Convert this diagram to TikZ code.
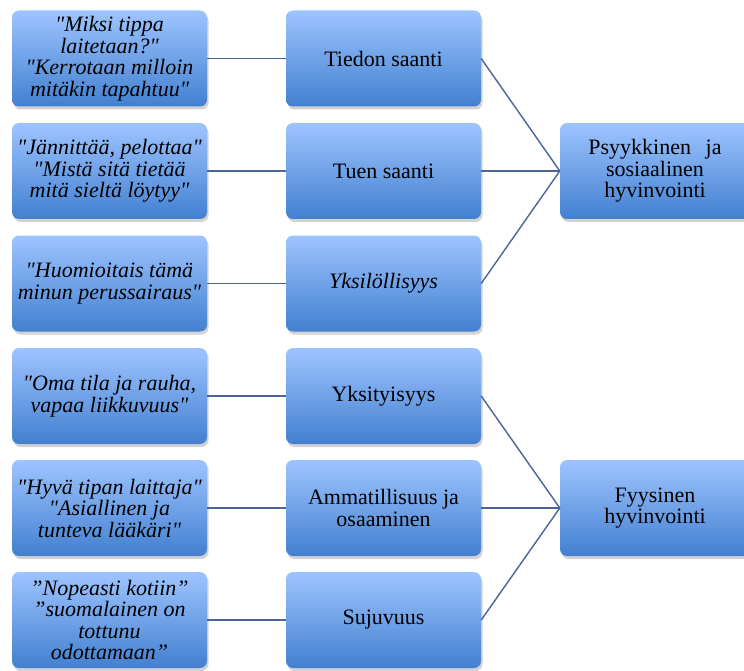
\documentclass[tikz,border=0pt]{standalone}
\usepackage{fontspec}
\setmainfont{Liberation Serif}[Ligatures=TeXOff]
\usetikzlibrary{shadows}
\definecolor{boxtop}{RGB}{158,196,255}
\definecolor{boxbot}{RGB}{66,128,208}
\definecolor{linkcol}{RGB}{72,102,152}
\tikzset{
  box/.style={rounded corners=7pt, minimum width=195pt, minimum height=96pt,
    top color=boxtop, bottom color=boxbot, align=center, inner sep=2pt,
    font=\fontsize{22}{21.5}\selectfont,
    drop shadow={shadow xshift=1.5pt, shadow yshift=-3pt, opacity=0.25, fill=black!70}},
  quote/.style={box, font=\fontsize{22}{21.5}\selectfont\itshape},
  link/.style={draw=linkcol, line width=1.4pt}
}
\begin{document}
\begin{tikzpicture}[x=1pt,y=-1pt]
\useasboundingbox (0,0) rectangle (744,671);
% left column
\node[quote] (l1) at (109.5,58.5) {"Miksi tippa\\laitetaan?"\\"Kerrotaan milloin\\mitäkin tapahtuu"};
\node[quote] (l2) at (109.5,171) {"Jännittää, pelottaa"\\"Mistä sitä tietää\\mitä sieltä löytyy"};
\node[quote] (l3) at (109.5,283.5) {"Huomioitais tämä\\minun perussairaus"};
\node[quote] (l4) at (109.5,396) {"Oma tila ja rauha,\\vapaa liikkuvuus"};
\node[quote] (l5) at (109.5,508) {"Hyvä tipan laittaja"\\"Asiallinen ja\\tunteva lääkäri"};
\node[quote] (l6) at (109.5,620) {”Nopeasti kotiin”\\”suomalainen on\\tottunu\\odottamaan”};
% middle column
\node[box] (m1) at (383.5,58.5) {Tiedon saanti};
\node[box] (m2) at (383.5,171) {Tuen saanti};
\node[quote] (m3) at (383.5,283.5) {Yksilöllisyys};
\node[box] (m4) at (383.5,396) {Yksityisyys};
\node[box] (m5) at (383.5,508) {Ammatillisuus ja\\osaaminen};
\node[box] (m6) at (383.5,620) {Sujuvuus};
% right column
\node[box, minimum width=190pt, text width=180pt] (r1) at (655,171) {Psyykkinen\ \ ja\\sosiaalinen\\hyvinvointi};
\node[box, minimum width=190pt, text width=180pt] (r2) at (655,508) {Fyysinen\\hyvinvointi};
% connectors
\foreach \i in {1,...,6} {\draw[link] (l\i.east) -- (m\i.west);}
\foreach \i in {1,2,3} {\draw[link] (m\i.east) -- (r1.west);}
\foreach \i in {4,5,6} {\draw[link] (m\i.east) -- (r2.west);}
\end{tikzpicture}
\end{document}
